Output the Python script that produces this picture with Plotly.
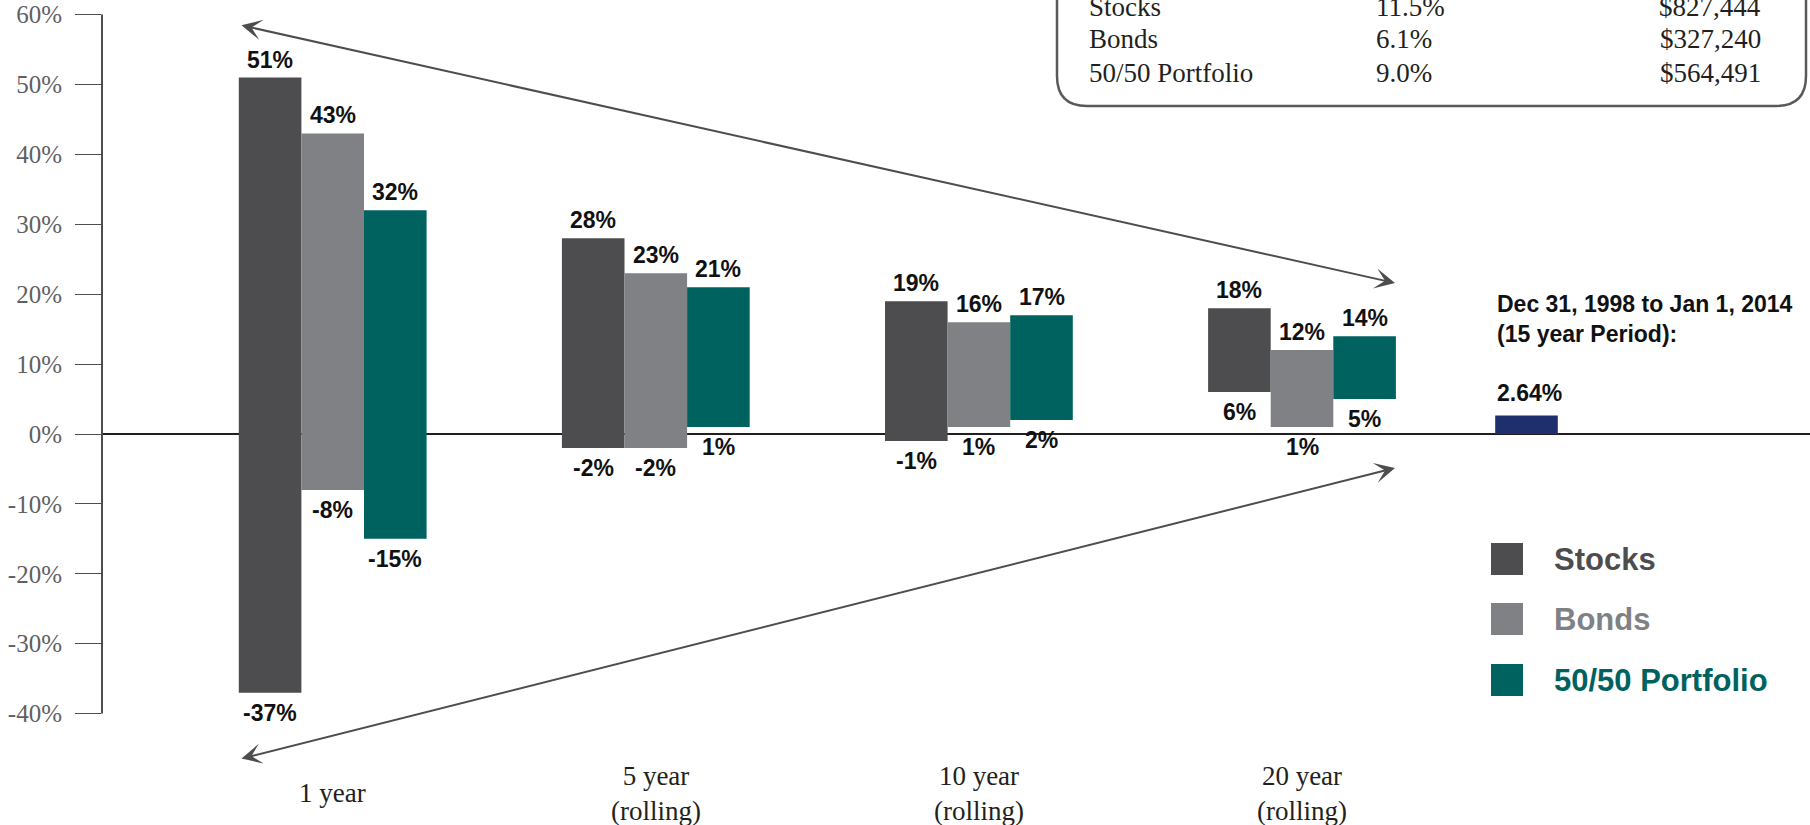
import plotly.graph_objects as go

# ---------------- data ----------------
categories = ["1 year", "5 year<br>(rolling)", "10 year<br>(rolling)", "20 year<br>(rolling)"]
series_names = ["Stocks", "Bonds", "50/50 Portfolio"]
stocks_high = [51, 28, 19, 18]
stocks_low = [-37, -2, -1, 6]
bonds_high = [43, 23, 16, 12]
bonds_low = [-8, -2, 1, 1]
portfolio_high = [32, 21, 17, 14]
portfolio_low = [-15, 1, 2, 5]

period_label = "Dec 31, 1998 to Jan 1, 2014<br>(15 year Period):"
period_value = 2.64

table_names = ["Stocks", "Bonds", "50/50 Portfolio"]
table_returns = ["11.5%", "6.1%", "9.0%"]
table_values = ["$827,444", "$327,240", "$564,491"]

y_tick_vals = [60, 50, 40, 30, 20, 10, 0, -10, -20, -30, -40]
y_tick_text = ["60%", "50%", "40%", "30%", "20%", "10%", "0%", "-10%", "-20%", "-30%", "-40%"]

# ---------------- styling / layout helpers ----------------
W, H = 1810, 825
L_MARGIN = 102
COLORS = ["#4d4d4f", "#808184", "#00625f"]
BLUE = "#1f2e6d"
LABEL_FONT = "Liberation Sans, Arial, Helvetica, sans-serif"
SERIF = "Liberation Serif, Times New Roman, serif"

GROUP0_PX, GROUP_STEP_PX = 332.7, 323.1
ZERO_PX, PX_PER_PCT = 434.0, 6.99


def px2x(px):
    return (px - GROUP0_PX) / GROUP_STEP_PX


def py2y(py):
    return (ZERO_PX - py) / PX_PER_PCT


def px2p(px):
    return (px - L_MARGIN) / (W - L_MARGIN)


def py2p(py):
    return 1 - py / H


group_pos = list(range(len(categories)))
bar_w = 62.6 / GROUP_STEP_PX
period_pos = px2x(1526.5)

highs = [stocks_high, bonds_high, portfolio_high]
lows = [stocks_low, bonds_low, portfolio_low]

fig = go.Figure()
annotations = []

for k, name in enumerate(series_names):
    xs = [g + (k - 1) * bar_w for g in group_pos]
    fig.add_trace(go.Bar(
        x=xs, y=[h - l for h, l in zip(highs[k], lows[k])], base=lows[k],
        width=bar_w, marker=dict(color=COLORS[k], line=dict(width=0)),
        name=name, showlegend=False, hoverinfo="skip",
    ))
    for x, h, l in zip(xs, highs[k], lows[k]):
        annotations.append(dict(x=x, y=h, xref="x", yref="y", text=f"{h}%", showarrow=False,
                                yanchor="middle", yshift=18,
                                font=dict(family=LABEL_FONT, size=23, color="#111", weight="bold")))
        annotations.append(dict(x=x, y=l, xref="x", yref="y", text=f"{l}%", showarrow=False,
                                yanchor="middle", yshift=-20,
                                font=dict(family=LABEL_FONT, size=23, color="#111", weight="bold")))

fig.add_trace(go.Bar(
    x=[period_pos], y=[period_value], base=[0], width=bar_w,
    marker=dict(color=BLUE, line=dict(width=0)), showlegend=False, hoverinfo="skip",
))
annotations.append(dict(x=period_pos, y=period_value, xref="x", yref="y", text=f"{period_value}%",
                        showarrow=False, yanchor="middle", yshift=23, xshift=3,
                        font=dict(family=LABEL_FONT, size=23, color="#111", weight="bold")))
annotations.append(dict(x=period_pos - bar_w / 2, y=period_value, xref="x", yref="y", text=period_label,
                        showarrow=False, xanchor="left", yanchor="middle", align="left",
                        xshift=0, yshift=97,
                        font=dict(family=LABEL_FONT, size=23, color="#111", weight="bold")))

# category labels
for g, c in zip(group_pos, categories):
    annotations.append(dict(x=g, y=py2p(793), xref="x", yref="paper", text=c, showarrow=False,
                            yanchor="middle", xanchor="center", align="center",
                            font=dict(family=SERIF, size=27, color="#231f20")))

# funnel arrows
for (x0, y0, x1, y1) in [(240, 25, 1395, 283), (240, 759, 1395, 468)]:
    annotations.append(dict(x=px2x(x1), y=py2y(y1), ax=px2x(x0), ay=py2y(y0),
                            xref="x", yref="y", axref="x", ayref="y", text="",
                            showarrow=True, arrowhead=3, startarrowhead=3, arrowside="end+start",
                            arrowsize=1.7, startarrowsize=1.7, arrowwidth=2, arrowcolor="#4d4d4f",
                            standoff=0, startstandoff=0))

# legend (custom)
shapes = []
legend_y = [559, 619, 680]
for k, name in enumerate(series_names):
    cy = legend_y[k]
    shapes.append(dict(type="rect", xref="paper", yref="paper",
                       x0=px2p(1491), x1=px2p(1523), y0=py2p(cy + 16), y1=py2p(cy - 16),
                       fillcolor=COLORS[k], line=dict(width=0)))
    annotations.append(dict(x=px2p(1552), y=py2p(cy), xref="paper", yref="paper", text=name,
                            showarrow=False, xanchor="left", yanchor="middle",
                            font=dict(family=LABEL_FONT, size=31, color=COLORS[k], weight="bold")))

# table box (top right)
r = 30
lx, rx, by, ty = 1057, 1806, 106, -20
path = (f"M {px2p(lx)},{py2p(ty)} L {px2p(lx)},{py2p(by - r)} "
        f"Q {px2p(lx)},{py2p(by)} {px2p(lx + r)},{py2p(by)} "
        f"L {px2p(rx - r)},{py2p(by)} Q {px2p(rx)},{py2p(by)} {px2p(rx)},{py2p(by - r)} "
        f"L {px2p(rx)},{py2p(ty)}")
shapes.append(dict(type="path", xref="paper", yref="paper", path=path,
                   line=dict(color="#58595b", width=2.5)))
row_y = [6.7, 39.3, 72.7]
for ry, n, ret, val in zip(row_y, table_names, table_returns, table_values):
    f = dict(family=SERIF, size=27, color="#231f20")
    annotations.append(dict(x=px2p(1087), y=py2p(ry), xref="paper", yref="paper", text=n,
                            showarrow=False, xanchor="left", yanchor="middle", font=f))
    annotations.append(dict(x=px2p(1374), y=py2p(ry), xref="paper", yref="paper", text=ret,
                            showarrow=False, xanchor="left", yanchor="middle", font=f))
    annotations.append(dict(x=px2p(1763), y=py2p(ry), xref="paper", yref="paper", text=val,
                            showarrow=False, xanchor="right", yanchor="middle", font=f))

# y axis line (only from -40% to 60%)
shapes.append(dict(type="line", xref="paper", yref="y", x0=0, x1=0,
                   y0=min(y_tick_vals), y1=max(y_tick_vals),
                   line=dict(color="#4d4d4f", width=2)))

fig.update_layout(
    width=W, height=H,
    margin=dict(l=L_MARGIN, r=0, t=0, b=0),
    paper_bgcolor="white", plot_bgcolor="white",
    barmode="overlay",
    xaxis=dict(range=[px2x(L_MARGIN), px2x(W)], visible=False, fixedrange=True),
    yaxis=dict(range=[py2y(H), py2y(0)], tickmode="array", tickvals=y_tick_vals, ticktext=y_tick_text,
               ticks="outside", ticklen=26, tickwidth=1.3, tickcolor="#4d4d4f",
               ticklabelstandoff=8,
               tickfont=dict(family=SERIF, size=25, color="#5f6062"),
               showgrid=False, showline=False,
               zeroline=True, zerolinecolor="#231f20", zerolinewidth=1.5, fixedrange=True),
    annotations=annotations,
    shapes=shapes,
)

fig.write_html("out.html")
